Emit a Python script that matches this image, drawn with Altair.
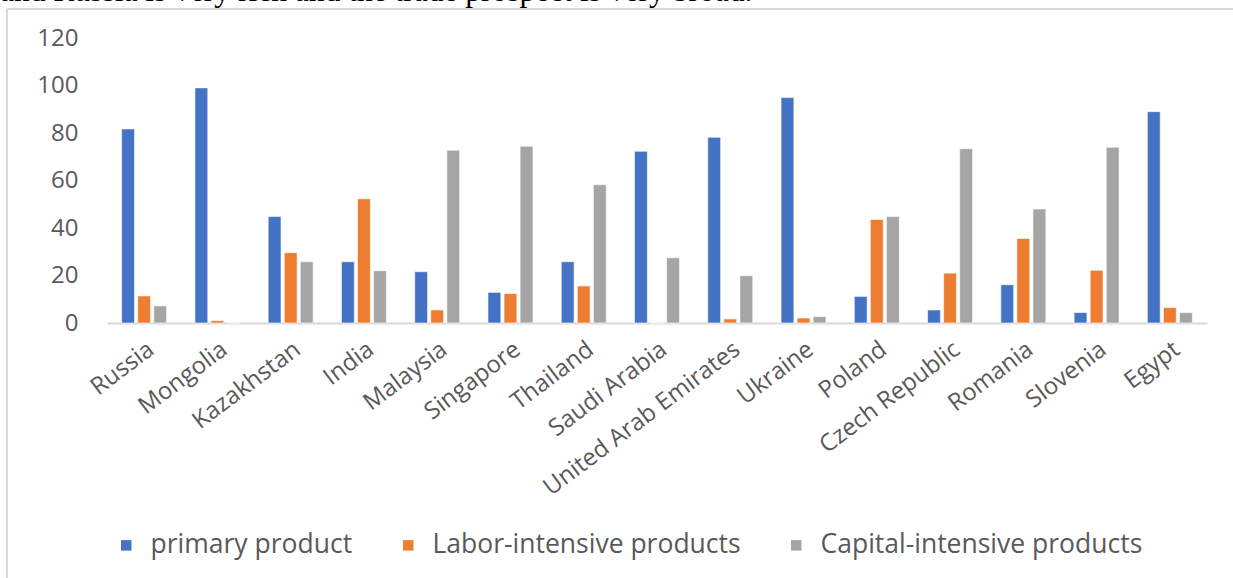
import altair as alt
import pandas as pd

countries = ["Russia", "Mongolia", "Kazakhstan", "India", "Malaysia", "Singapore",
             "Thailand", "Saudi Arabia", "United Arab Emirates", "Ukraine", "Poland",
             "Czech Republic", "Romania", "Slovenia", "Egypt"]
series = ["primary product", "Labor-intensive products", "Capital-intensive products"]
primary = [81.7, 99.0, 44.8, 25.8, 21.6, 12.9, 25.8, 72.3, 78.2, 94.9, 11.2, 5.5, 16.1, 4.4, 89.0]
labor = [11.4, 1.0, 29.6, 52.3, 5.5, 12.4, 15.6, 0.0, 1.7, 2.1, 43.6, 21.0, 35.6, 22.2, 6.5]
capital = [7.2, 0.0, 25.8, 22.0, 72.7, 74.4, 58.2, 27.5, 19.9, 2.7, 44.8, 73.4, 48.0, 74.0, 4.4]
colors = ["#4472C4", "#ED7D31", "#A5A5A5"]
y_ticks = [0, 20, 40, 60, 80, 100, 120]
top_text = "and Russia is very rich and the trade prospect is very broad."

rows = []
for i, c in enumerate(countries):
    for s, vals in zip(series, [primary, labor, capital]):
        rows.append({"country": c, "series": s, "value": vals[i]})
df = pd.DataFrame(rows)

FONT = "Open Sans"
GRAY = "#595959"

bars = alt.Chart(df).mark_bar(stroke="white", strokeWidth=0.6).encode(
    x=alt.X("country:N", sort=countries,
            scale=alt.Scale(paddingInner=0.386, paddingOuter=0.2),
            axis=alt.Axis(title=None, labelAngle=-37, labelFont=FONT, labelFontSize=24,
                          labelColor=GRAY, ticks=False, domainColor="#D9D9D9",
                          domainWidth=2, labelPadding=14, labelLimit=0)),
    xOffset=alt.XOffset("series:N", sort=series,
                        scale=alt.Scale(paddingInner=0.2, paddingOuter=0)),
    y=alt.Y("value:Q", scale=alt.Scale(domain=[0, 120], nice=False),
            axis=alt.Axis(title=None, values=y_ticks, grid=False, domain=False, ticks=False,
                          labelFont=FONT, labelFontSize=24, labelColor=GRAY,
                          labelPadding=29)),
    color=alt.Color("series:N", sort=series,
                    scale=alt.Scale(domain=series, range=colors),
                    legend=alt.Legend(title=None, orient="none", direction="horizontal",
                                      legendX=6, legendY=494, columns=3,
                                      symbolType="square", symbolSize=110,
                                      symbolStrokeWidth=0, labelFont=FONT,
                                      labelFontSize=26.5, labelColor=GRAY, labelLimit=0,
                                      labelOffset=11, columnPadding=42)),
)

one = pd.DataFrame({"a": [0]})
frame_left = alt.Chart(one).mark_rule(color="#D9D9D9", strokeWidth=2).encode(
    x=alt.value(-100), y=alt.value(-29), y2=alt.value(600))
frame_top = alt.Chart(one).mark_rule(color="#D9D9D9", strokeWidth=2).encode(
    x=alt.value(-100), x2=alt.value(1200), y=alt.value(-29))
txt = alt.Chart(pd.DataFrame({"t": [top_text]})).mark_text(
    align="left", baseline="alphabetic", font="Liberation Serif", fontSize=31.5,
    color="black").encode(x=alt.value(-107), y=alt.value(-37), text="t:N")

chart = alt.layer(frame_left, frame_top, txt, bars).properties(
    width=1100, height=285,
    autosize=alt.AutoSizeParams(type="none"),
    padding={"left": 107, "top": 38, "right": 26, "bottom": 255},
    background="white",
).configure_view(strokeWidth=0)

chart.save("out.html", embed_options={"renderer": "svg", "actions": False})
